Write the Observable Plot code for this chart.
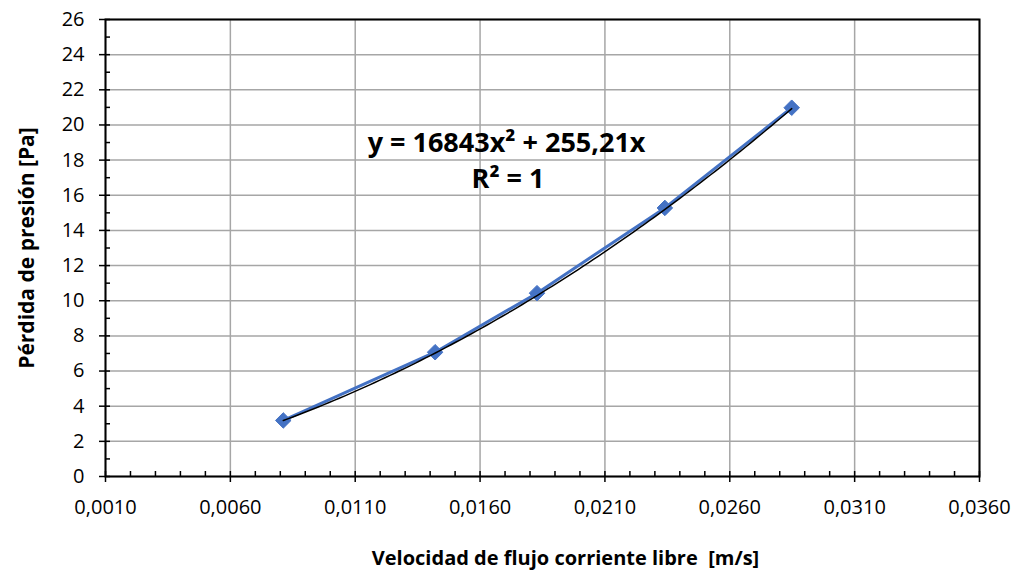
<!DOCTYPE html>
<html>
<head>
<meta charset="utf-8">
<script src="https://cdn.jsdelivr.net/npm/d3@7"></script>
<script src="https://cdn.jsdelivr.net/npm/@observablehq/plot@0.6"></script>
<style>
  body { margin: 0; background: #fff; }
  #chart svg { font-family: "Open Sans", sans-serif; }
</style>
</head>
<body>
<div id="chart"></div>
<script>
// Measured free-stream velocity [m/s] and pressure loss [Pa]
const velocity = [0.00812, 0.0142, 0.01828, 0.0234, 0.02848];
const pressureLoss = [3.19, 7.07, 10.43, 15.28, 20.98];

// Axis ticks
const xTicks = [0.001, 0.006, 0.011, 0.016, 0.021, 0.026, 0.031, 0.036];
const yTicks = [0, 2, 4, 6, 8, 10, 12, 14, 16, 18, 20, 22, 24, 26];

// Titles
const xTitle = "Velocidad de flujo corriente libre\u00a0\u00a0[m/s]";
const yTitle = "Pérdida de presión [Pa]";

// Quadratic trendline y = a·x² + b·x
const trendA = 16843;
const trendB = 255.21;
const equationLines = ["y = 16843x² + 255,21x", "R² = 1"];
const equationX = [0.01706, 0.01712];
const equationY = [18.95, 16.9];

const points = velocity.map((v, i) => ({v, p: pressureLoss[i]}));
const [vMin, vMax] = d3.extent(velocity);
const trend = d3.range(0, 101).map(k => {
  const v = vMin + (vMax - vMin) * k / 100;
  return {v, p: trendA * v * v + trendB * v};
});
const equation = equationLines.map((t, i) => ({t, x: equationX[i], y: equationY[i]}));

// Minor ticks every 0.001 m/s and every 1 Pa
const xMinor = d3.range(2, 36).filter(k => (k - 1) % 5 !== 0).map(k => k / 1000);
const yMinor = d3.range(1, 26, 2);

const fmtX = d => d3.format(".4f")(d).replace(".", ",");

const chart = Plot.plot({
  width: 1016,
  height: 577,
  marginLeft: 105,
  marginRight: 37,
  marginTop: 19,
  marginBottom: 101,
  style: {fontFamily: "'Open Sans', sans-serif", color: "#000", background: "#fff"},
  x: {domain: [0.001, 0.036]},
  y: {domain: [0, 26]},
  marks: [
    Plot.gridX(xTicks, {stroke: "#a6a6a6", strokeOpacity: 1, strokeWidth: 1.5}),
    Plot.gridY(yTicks, {stroke: "#a6a6a6", strokeOpacity: 1, strokeWidth: 1.5}),
    Plot.frame({stroke: "#000", strokeWidth: 2}),
    // inward tick marks
    Plot.ruleX(xTicks.concat(xMinor), {y1: 0, y2: 0, insetBottom: 5, stroke: "#000", strokeWidth: 1.5}),
    Plot.ruleY(yTicks.concat(yMinor), {x1: 0.001, x2: 0.001, insetRight: -5, stroke: "#000", strokeWidth: 1.5}),
    Plot.axisX(xTicks, {
      tickSize: 6, tickPadding: 17, tickFormat: fmtX, fontSize: 20,
      strokeWidth: 1.5, label: null
    }),
    Plot.axisY(yTicks, {
      tickSize: 6, tickPadding: 15, fontSize: 20,
      strokeWidth: 1.5,
      label: yTitle,
      labelAnchor: "center", labelOffset: 86, labelArrow: "none"
    }),
    Plot.text([xTitle], {
      text: d => d, frameAnchor: "bottom", dx: 23, dy: 88,
      fontSize: 20, fontWeight: "bold", fill: "#000"
    }),
    Plot.line(points, {x: "v", y: "p", stroke: "#4472C4", strokeWidth: 3}),
    Plot.dot(points, {x: "v", y: "p", symbol: "diamond2", r: 7, fill: "#4472C4", stroke: "#4472C4", strokeWidth: 1}),
    Plot.line(trend, {x: "v", y: "p", stroke: "#000", strokeWidth: 1.5}),
    Plot.text(equation, {x: "x", y: "y", text: "t", fontSize: 27, fontWeight: "bold", fill: "#000"})
  ]
});

// the y axis title is bold
chart.querySelectorAll("g[aria-label='y-axis label'] text").forEach(t => {
  t.setAttribute("font-weight", "bold");
  t.setAttribute("font-size", "21");
});
document.getElementById("chart").append(chart);
</script>
</body>
</html>
